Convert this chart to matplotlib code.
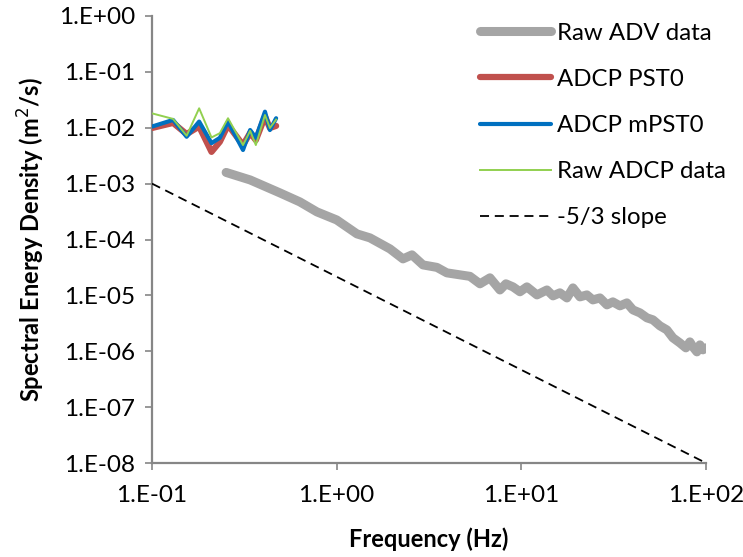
import matplotlib
matplotlib.use("Agg")
import matplotlib.pyplot as plt
import numpy as np

plt.rcParams['font.family'] = ['Lato', 'DejaVu Sans']

# Raw ADV data
adv_f = [0.252, 0.340, 0.493, 0.632, 0.782, 1.00, 1.288, 1.514, 1.944, 2.286, 2.557,
         2.933, 3.49, 3.95, 4.65, 5.27, 5.97, 6.76, 7.66, 8.25, 9.01, 9.83, 10.72,
         12.15, 13.76, 14.84, 16.18, 17.66, 19.03, 20.77, 22.65, 24.4, 26.65, 29.07,
         31.3, 34.2, 37.3, 40.2, 43.9, 47.9, 51.6, 56.3, 61.4, 66.2, 72.2, 77.8,
         81.8, 84.9, 89.3, 92.7, 96.2, 100.0]
adv_psd = [1.586e-3, 1.164e-3, 6.82e-4, 4.71e-4, 3.12e-4, 2.24e-4, 1.26e-4, 1.07e-4,
           6.79e-5, 4.50e-5, 5.31e-5, 3.51e-5, 3.17e-5, 2.53e-5, 2.33e-5, 2.19e-5,
           1.61e-5, 2.06e-5, 1.25e-5, 1.61e-5, 1.42e-5, 1.16e-5, 1.42e-5, 1.02e-5,
           1.25e-5, 9.8e-6, 1.11e-5, 9.0e-6, 1.36e-5, 9.4e-6, 1.02e-5, 8.3e-6, 9.0e-6,
           6.76e-6, 7.65e-6, 6.49e-6, 7.34e-6, 5.5e-6, 4.86e-6, 3.96e-6, 3.65e-6,
           2.85e-6, 2.41e-6, 1.74e-6, 1.41e-6, 1.15e-6, 1.47e-6, 1.20e-6, 9.75e-7,
           1.30e-6, 1.06e-6, 1.15e-6]

# ADCP spectra
adcp_f = [0.100, 0.130, 0.154, 0.180, 0.210, 0.233, 0.258, 0.311, 0.340, 0.365,
          0.409, 0.435, 0.470]
pst0 = [0.0099, 0.0122, 0.0077, 0.0105, 0.0037, 0.0056, 0.0112, 0.0049, 0.0081,
        0.0060, 0.0159, 0.0099, 0.0108]
mpst0 = [0.0105, 0.0138, 0.0069, 0.0129, 0.0053, 0.0066, 0.0129, 0.0040, 0.0091,
         0.0066, 0.0194, 0.0091, 0.0148]
raw_adcp = [0.0181, 0.0144, 0.0072, 0.0223, 0.0067, 0.0080, 0.0148, 0.0049, 0.0088,
            0.0049, 0.0169, 0.0099, 0.0140]

# -5/3 slope reference
slope_f = [0.1, 100.0]
slope_psd = [1e-3, 1e-8]

x_ticks = [1e-1, 1e0, 1e1, 1e2]
x_labels = ['1.E-01', '1.E+00', '1.E+01', '1.E+02']
y_ticks = [1e-8, 1e-7, 1e-6, 1e-5, 1e-4, 1e-3, 1e-2, 1e-1, 1e0]
y_labels = ['1.E-08', '1.E-07', '1.E-06', '1.E-05', '1.E-04', '1.E-03', '1.E-02',
            '1.E-01', '1.E+00']

fig = plt.figure(figsize=(7.43, 5.57), dpi=100)
ax = fig.add_axes([152/743, 1-463/557, (706-152)/743, (463-16)/557])

ax.plot(adv_f, adv_psd, color='#A5A5A5', lw=6.5, solid_capstyle='round',
        solid_joinstyle='round', label='Raw ADV data', zorder=2)
ax.plot(adcp_f, pst0, color='#C0504D', lw=4.5, solid_joinstyle='round',
        solid_capstyle='round', label='ADCP PST0', zorder=3)
ax.plot(adcp_f, mpst0, color='#0070C0', lw=3, solid_joinstyle='round',
        solid_capstyle='round', label='ADCP mPST0', zorder=4)
ax.plot(adcp_f, raw_adcp, color='#92D050', lw=1.4, label='Raw ADCP data', zorder=5)
ax.plot(slope_f, slope_psd, color='black', lw=1.3, dashes=(5, 3.2),
        label='-5/3 slope', zorder=6)

ax.set_xscale('log')
ax.set_yscale('log')
ax.set_xlim(0.1, 100)
ax.set_ylim(1e-8, 1)
ax.set_xticks(x_ticks)
ax.set_xticklabels(x_labels)
ax.set_yticks(y_ticks)
ax.set_yticklabels(y_labels)
ax.minorticks_off()

for s in ['top', 'right']:
    ax.spines[s].set_visible(False)
for s in ['left', 'bottom']:
    ax.spines[s].set_color('#868686')
    ax.spines[s].set_linewidth(1.6)
ax.tick_params(axis='both', direction='out', length=5, width=1.2, color='#868686',
               labelsize=17.5, labelcolor='black')
ax.tick_params(axis='x', pad=11)
ax.tick_params(axis='y', pad=7)

ax.set_xlabel('Frequency (Hz)', fontsize=17, fontweight='bold', labelpad=15)
ax.set_ylabel('Spectral Energy Density (m$^2$/s)', fontsize=17, fontweight='bold',
              labelpad=9)

leg = ax.legend(loc='upper left', bbox_to_anchor=(470/743, 1-13/557),
                bbox_transform=fig.transFigure, frameon=False, fontsize=17.25,
                handlelength=3.0, handletextpad=0.25, labelspacing=1.05,
                borderaxespad=0)

fig.savefig('out.png', dpi=100)
